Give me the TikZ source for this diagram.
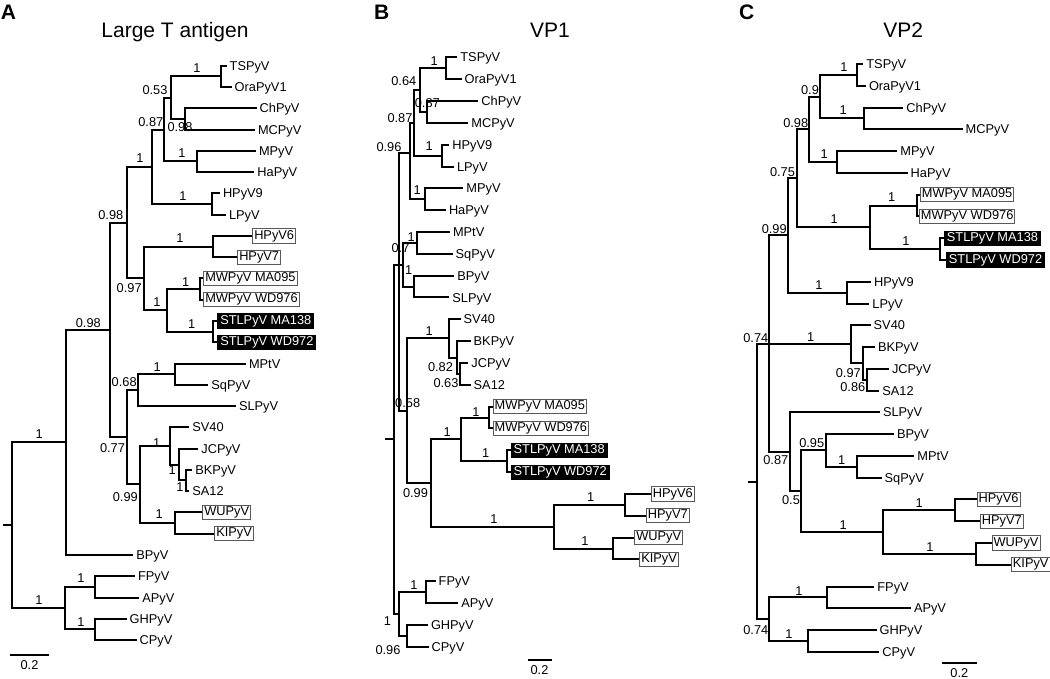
\documentclass[tikz,border=0pt]{standalone}
\usepackage{fontspec}
\setmainfont{Liberation Sans}
\begin{document}
\begin{tikzpicture}[x=1pt,y=-1pt,
  br/.style={line width=2pt},
  tip/.style={anchor=west,inner xsep=3pt,inner ysep=0pt,text height=9.2pt,text depth=0pt,font=\fontsize{12.8}{14}\selectfont},
  boxed/.style={anchor=west,draw=black!65,line width=0.9pt,fill=white,inner xsep=1.5pt,inner ysep=1.2pt,text height=9.2pt,text depth=2.7pt,font=\fontsize{12.8}{14}\selectfont},
  dark/.style={boxed,draw=black,fill=black,text=white,inner xsep=2.5pt},
  pp/.style={inner sep=0pt,text height=9.2pt,text depth=0pt,font=\fontsize{12.8}{14}\selectfont},
  ttl/.style={inner sep=0pt,text height=15pt,text depth=0pt,font=\fontsize{21}{24}\selectfont},
  lett/.style={inner sep=0pt,text height=15pt,text depth=0pt,font=\fontsize{21}{24}\selectfont\bfseries}]
\path[fill=white] (0,0) rectangle (1050,678);
\useasboundingbox (0,0) rectangle (1050,678);

\node[lett] (pA) at (8.5,12.2) {A};
\node[lett] (pB) at (381.7,12.2) {B};
\node[lett] (pC) at (746.7,12.2) {C};
\node[ttl] (tA) at (175,30) {Large T antigen};
\node[ttl] (tB) at (550,30) {VP1};
\node[ttl] (tC) at (903.3,30) {VP2};

\foreach \n/\x/\y in {aR/11.7/525.25, aR0/3.3/525.25, aBig/65.7/442.4, a98l/110.3/329.9,
  a98u/126.7/222.55, a1u/152.3/166.7, a87/164.3/129.5, a53/170.7/97.6, aTO/220.7/76.35,
  aCM/185/118.85, aMH/196.7/161.45, aHL/211.7/203.95, a97/144/278.4, aH67/213.3/246.5,
  aMS/166.7/310.3, aMW/200/289.05, aST/213.3/331.55, a77/126.7/437.3, a68/137.7/390.1,
  aMQ/175/374.15, a99/140/484.45, aSV/170/445.9, aJC/179/464.5, aBS/186/480.45,
  aWK/175/523, aBird/65/608.1, aFA/95/586.85, aGC/95/629.35,
  bR/394/439.3, bR0/385/439.3, bT/399.3/264.7, b96/409.7/153, b87/414/122.8, b64/420/90.05,
  bTO/446/68.2, bCM/426.7/111.9, bHL/441.7/155.55, bMH/425/199.2, b7/403/264.7,
  bMQ/417.3/242.85, bBS/414/286.5, b58/407.3/410.7, bSV/449.3/338.4, bBK/456.7/357.5,
  bJS/460/373.85, b99/430.7/483, bMS/460.7/439.3, bMW/489/417.5, bST/507.3/461.15,
  bHW/554.3/526.65, bH67/625/504.8, bWK/612.7/548.5, bBird/398.7/613.95, bFA/426.3/592.1,
  bGC/407.3/635.8,
  cR/756.7/481.7, cR0/748.3/481.7, cT/769/344.3, c99/788.3/235.45, c75/797.3/178.3,
  c98/809.3/129.3, c9/820/96.65, cTO/856.7/74.9, cCM/864.3/118.4, cMH/836.7/162,
  cMS/870/227.3, cMW/916.7/205.5, cST/940/249.05, cHL/847.3/292.6, cSV/851/344.3,
  cBK/862.7/363.35, cJS/866.7/379.7, c87/790/451.75, c5/801/491.2, c95/826/450.4,
  cMQ/856.7/466.75, cHW/882.7/532.05, cH67/955/510.3, cWK/975.7/553.8, cBird/769/619.15,
  cFA/826.7/597.4, cGC/807.7/640.9}
  \coordinate (\n) at (\x,\y);

\foreach \n/\x/\y/\s in {aTS/226.5/65.7/TSPyV, aOra/231.5/87.0/OraPyV1, aCh/256.5/108.2/ChPyV,
  aMC/254.8/129.5/MCPyV, aMP/255.8/150.8/MPyV, aHa/254.2/172.1/HaPyV, aH9/219.8/193.3/HPyV9,
  aLP/225.8/214.6/LPyV, aMPt/245.8/363.5/MPtV, aSq/208.2/384.8/SqPyV, aSL/235.8/406.0/SLPyV,
  aSV40/189.2/427.3/SV40, aJCP/198.2/448.6/JCPyV, aBK/192.2/469.8/BKPyV, aSA/189.2/491.1/SA12,
  aBP/133.2/554.9/BPyV, aFP/134.8/576.2/FPyV, aAP/139.2/597.5/APyV, aGH/126.5/618.7/GHPyV,
  aCP/136.5/640.0/CPyV,
  bTS/457.2/57.3/TSPyV, bOra/461.5/79.1/OraPyV1, bCh/478.2/101.0/ChPyV, bMC/468.2/122.8/MCPyV,
  bH9/449.2/144.6/HPyV9, bLP/453.8/166.5/LPyV, bMP/463.2/188.3/MPyV, bHa/445.8/210.1/HaPyV,
  bMPt/449.8/231.9/MPtV, bSq/452.5/253.8/SqPyV, bBP/454.2/275.6/BPyV, bSL/449.2/297.4/SLPyV,
  bSV40/460.5/319.3/SV40, bBKP/470.5/341.1/BKPyV, bJC/468.2/362.9/JCPyV, bSA/470.5/384.8/SA12,
  bFP/435.5/581.2/FPyV, bAP/458.2/603.0/APyV, bGH/427.8/624.9/GHPyV, bCP/428.5/646.7/CPyV,
  cTS/863.2/64.0/TSPyV, cOra/865.8/85.8/OraPyV1, cCh/903.2/107.5/ChPyV, cMC/962.5/129.3/MCPyV,
  cMP/897.2/151.1/MPyV, cHa/907.5/172.9/HaPyV, cH9/870.8/281.7/HPyV9, cLP/869.2/303.5/LPyV,
  cSV40/870.5/325.2/SV40, cBKP/874.8/347.0/BKPyV, cJC/888.8/368.8/JCPyV, cSA/879.2/390.6/SA12,
  cSL/879.8/412.3/SLPyV, cBP/893.8/434.1/BPyV, cMPt/914.2/455.9/MPtV, cSq/881.5/477.6/SqPyV,
  cFP/874.2/586.5/FPyV, cAP/910.8/608.3/APyV, cGH/876.5/630.0/GHPyV, cCP/879.2/651.8/CPyV}
  {\coordinate (\n) at (\x,\y); \node[tip] (\n-t) at (\n) {\s};}

\foreach \n/\x/\y/\s in {aH6/252.3/235.9/HPyV6, aH7/237.3/257.1/HPyV7,
  aMW1/203.3/278.4/MWPyV MA095, aMW2/203.3/299.7/MWPyV WD976, aWU/202.3/512.4/WUPyV,
  aKI/214.3/533.6/KIPyV,
  bMW1/492.7/406.6/MWPyV MA095, bMW2/492.7/428.4/MWPyV WD976, bH6/651/493.9/HPyV6,
  bH7/646/515.7/HPyV7, bWU/634.3/537.6/WUPyV, bKI/639.3/559.4/KIPyV,
  cMW1/920/194.6/MWPyV MA095, cMW2/919/216.4/MWPyV WD976, cH6/976.7/499.4/HPyV6,
  cH7/980/521.2/HPyV7, cWU/991.7/542.9/WUPyV, cKI/1011/564.7/KIPyV}
  {\coordinate (\n) at (\x,\y); \node[boxed] (\n-t) at (\n) {\s};}

\foreach \n/\x/\y/\s in {aST1/217.3/320.9/STLPyV MA138, aST2/217.3/342.2/STLPyV WD972,
  bST1/510.7/450.2/STLPyV MA138, bST2/510.7/472.1/STLPyV WD972,
  cST1/944/238.2/STLPyV MA138, cST2/946/259.9/STLPyV WD972}
  {\coordinate (\n) at (\x,\y); \node[dark] (\n-t) at (\n) {\s};}

\foreach \p/\c in {aR/aBig, aR/aBird, aBig/a98l, aBig/aBP, a98l/a98u, a98l/a77, a98u/a1u,
  a98u/a97, a1u/a87, a1u/aHL, a87/a53, a87/aMH, a53/aTO, a53/aCM, aTO/aTS, aTO/aOra,
  aCM/aCh, aCM/aMC, aMH/aMP, aMH/aHa, aHL/aH9, aHL/aLP, a97/aH67, a97/aMS, aH67/aH6,
  aH67/aH7, aMS/aMW, aMS/aST, aMW/aMW1, aMW/aMW2, aST/aST1, aST/aST2, a77/a68, a77/a99,
  a68/aMQ, a68/aSL, aMQ/aMPt, aMQ/aSq, a99/aSV, a99/aWK, aSV/aSV40, aSV/aJC, aJC/aJCP,
  aJC/aBS, aBS/aBK, aBS/aSA, aWK/aWU, aWK/aKI, aBird/aFA, aBird/aGC, aFA/aFP, aFA/aAP,
  aGC/aGH, aGC/aCP,
  bR/bT, bR/bBird, bT/b96, bT/b7, bT/b58, b96/b87, b96/bMH, b87/b64, b87/bHL, b64/bTO,
  b64/bCM, bTO/bTS, bTO/bOra, bCM/bCh, bCM/bMC, bHL/bH9, bHL/bLP, bMH/bMP, bMH/bHa,
  b7/bMQ, b7/bBS, bMQ/bMPt, bMQ/bSq, bBS/bBP, bBS/bSL, b58/bSV, b58/b99, bSV/bSV40,
  bSV/bBK, bBK/bBKP, bBK/bJS, bJS/bJC, bJS/bSA, b99/bMS, b99/bHW, bMS/bMW, bMS/bST,
  bMW/bMW1, bMW/bMW2, bST/bST1, bST/bST2, bHW/bH67, bHW/bWK, bH67/bH6, bH67/bH7,
  bWK/bWU, bWK/bKI, bBird/bFA, bBird/bGC, bFA/bFP, bFA/bAP, bGC/bGH, bGC/bCP,
  cR/cT, cR/cBird, cT/c99, cT/cSV, cT/c87, c99/c75, c99/cHL, c75/c98, c75/cMS, c98/c9,
  c98/cMH, c9/cTO, c9/cCM, cTO/cTS, cTO/cOra, cCM/cCh, cCM/cMC, cMH/cMP, cMH/cHa,
  cMS/cMW, cMS/cST, cMW/cMW1, cMW/cMW2, cST/cST1, cST/cST2, cHL/cH9, cHL/cLP,
  cSV/cSV40, cSV/cBK, cBK/cBKP, cBK/cJS, cJS/cJC, cJS/cSA, c87/cSL, c87/c5, c5/c95,
  c5/cHW, c95/cBP, c95/cMQ, cMQ/cMPt, cMQ/cSq, cHW/cH67, cHW/cWK, cH67/cH6, cH67/cH7,
  cWK/cWU, cWK/cKI, cBird/cFA, cBird/cGC, cFA/cFP, cFA/cAP, cGC/cGH, cGC/cCP}
  \draw[br] (\p) |- (\c);
\draw[br] (aR0) -- (aR);
\draw[br] (bR0) -- (bR);
\draw[br] (cR0) -- (cR);

\foreach \n/\x/\y/\s in {aL1/197/68/1, aL2/155/90/0.53, aL3/180/127/0.98, aL4/150.8/121.7/0.87,
  aL5/182/153/1, aL6/140/158.3/1, aL7/183/196/1, aL8/110.8/215/0.98, aL9/180/238.3/1,
  aL10/129.2/288.3/0.97, aL11/185.7/281.7/1, aL12/157/301.7/1, aL13/191.7/324/1,
  aL14/88.3/322.7/0.98, aL15/157.3/366.7/1, aL16/124.2/381.7/0.68, aL17/112.5/448.3/0.77,
  aL18/156.7/443.3/1, aL19/39.3/434/1, aL20/172.3/470/1, aL21/180/486.7/1,
  aL22/125.3/496.7/0.99, aL23/159.3/514.3/1, aL24/39/600/1, aL25/81/578/1, aL26/81/622/1,
  bL1/434.3/61/1, bL2/403.8/81/0.64, bL3/427.3/102.7/0.87, bL4/400/118.3/0.87,
  bL5/429.3/145.7/1, bL6/389/146.7/0.96, bL7/417.3/190/1, bL8/411.3/236.7/1,
  bL9/400.5/248.3/0.7, bL10/408.7/270/1, bL11/429.3/330.7/1, bL12/440.5/366.7/0.82,
  bL13/446/383.3/0.63, bL14/407.7/403.3/0.58, bL15/476/411.7/1, bL16/447.3/431.7/1,
  bL17/485.7/452.7/1, bL18/415.5/492.7/0.99, bL19/494/519.3/1, bL20/590.7/497.3/1,
  bL21/585/541/1, bL22/414/585/1, bL23/387.5/621/1, bL24/388/650/0.96,
  cL1/844/66.7/1, cL2/810/90/0.9, cL3/843.3/110/1, cL4/795.7/123.3/0.98, cL5/824.3/154/1,
  cL6/782.5/171.7/0.75, cL7/891.7/197.3/1, cL8/834.3/219.3/1, cL9/906/240.7/1,
  cL10/774.2/229.3/0.99, cL11/819/285/1, cL12/810.7/337.3/1, cL13/755.8/338.3/0.74,
  cL14/848.3/372.7/0.97, cL15/852.8/386.7/0.86, cL16/811.7/443.3/0.95, cL17/841.7/460/1,
  cL18/775.8/460/0.87, cL19/791/500/0.5, cL20/843.3/525/1, cL21/919.3/502.7/1,
  cL22/930/547.3/1, cL23/799/591/1, cL24/755.8/630/0.74, cL25/789/634/1}
  \node[pp] (\n) at (\x,\y) {\s};

\coordinate (aS1) at (10,655);
\coordinate (aS2) at (49,655);
\coordinate (bS1) at (528.3,660);
\coordinate (bS2) at (551.7,660);
\coordinate (cS1) at (942.3,663.3);
\coordinate (cS2) at (976.7,663.3);
\draw[br] (aS1) -- (aS2);
\draw[br] (bS1) -- (bS2);
\draw[br] (cS1) -- (cS2);
\node[pp] (aSc) at (29.5,665) {0.2};
\node[pp] (bSc) at (539.5,670) {0.2};
\node[pp] (cSc) at (959.3,672.5) {0.2};
\end{tikzpicture}
\end{document}
